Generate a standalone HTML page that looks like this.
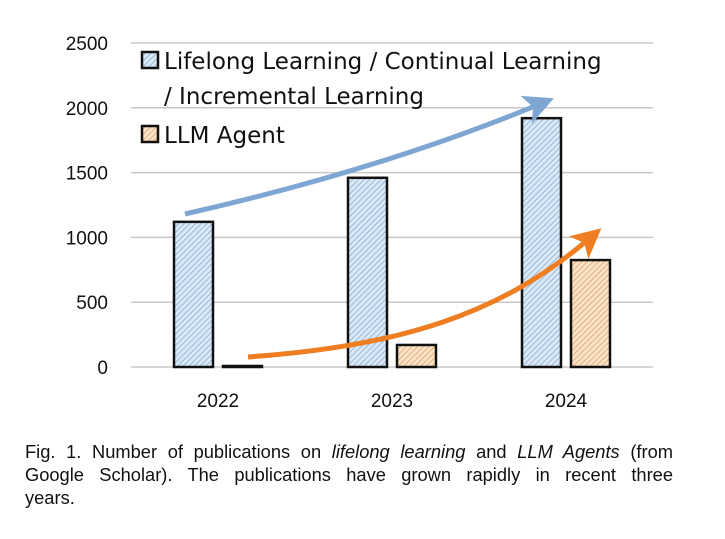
<!DOCTYPE html>
<html><head><meta charset="utf-8"><style>
body{margin:0;background:#fff;width:725px;height:539px;overflow:hidden;font-family:"Liberation Sans",sans-serif}
#cap{position:absolute;left:25px;top:440px;width:648px;font-size:18.3px;line-height:23px;color:#111}
#cap .j{text-align:justify;text-align-last:justify;white-space:nowrap}
</style></head><body>
<svg id="chart" width="725" height="430" style="position:absolute;left:0;top:0">
<defs>
<pattern id="hb" patternUnits="userSpaceOnUse" width="4" height="4" patternTransform="rotate(45)"><rect width="4" height="4" fill="#dbe8f5"/><line x1="0" y1="0" x2="0" y2="4" stroke="#7fa6cf" stroke-width="1.4"/></pattern>
<pattern id="ho" patternUnits="userSpaceOnUse" width="4" height="4" patternTransform="rotate(45)"><rect width="4" height="4" fill="#fbe3c8"/><line x1="0" y1="0" x2="0" y2="4" stroke="#d89a5e" stroke-width="1.4"/></pattern>
<marker id="ab" markerWidth="6" markerHeight="6" refX="3" refY="3" orient="auto" markerUnits="strokeWidth"><path d="M0,0 L6,3 L0,6 L1.5,3z" fill="#7ea6d2"/></marker>
<marker id="ao" markerWidth="6" markerHeight="6" refX="3" refY="3" orient="auto" markerUnits="strokeWidth"><path d="M0,0 L6,3 L0,6 L1.5,3z" fill="#ef7d22"/></marker>
</defs>
<g id="grid"></g><g id="bars"></g><g id="labels"></g>
<path d="M185,214 Q380,170 540,104" stroke="#7ea6d2" stroke-width="5" fill="none" marker-end="url(#ab)"/>
<path d="M248,357 C400,346 500,315 590,238" stroke="#ef7d22" stroke-width="5" fill="none" marker-end="url(#ao)"/>
<g font-family="'DejaVu Sans',sans-serif" font-size="23" fill="#111">
<rect x="142" y="52" width="16" height="16" fill="url(#hb)" stroke="#111" stroke-width="2.5"/>
<text x="164" y="69">Lifelong Learning / Continual Learning</text>
<text x="164" y="104">/ Incremental Learning</text>
<rect x="142" y="126" width="16" height="16" fill="url(#ho)" stroke="#111" stroke-width="2.5"/>
<text x="164" y="143">LLM Agent</text>
</g>
</svg>
<div id="cap"><div class="j">Fig. 1. Number of publications on <i>lifelong learning</i> and <i>LLM Agents</i> (from</div><div class="j">Google Scholar). The publications have grown rapidly in recent three</div><div>years.</div></div>
<script>
const categories=["2022","2023","2024"];
const lifelong=[1120,1460,1920];
const agent=[8,170,825];
const ticks=[0,500,1000,1500,2000,2500];
const NS="http://www.w3.org/2000/svg";
const y0=367,yTop=43,maxV=2500,xL=131,xR=653;
const y=v=>y0-(v/maxV)*(y0-yTop);
const band=(xR-xL)/categories.length;
const xc=i=>xL+band*(i+0.5);
function mk(t,a,p){const e=document.createElementNS(NS,t);for(const k in a)e.setAttribute(k,a[k]);document.getElementById(p).appendChild(e);return e;}
ticks.forEach(t=>{
 const l=mk("line",{x1:xL,x2:xR,y1:y(t),y2:y(t),stroke:"#c8c8c8","stroke-width":1.5},"grid");
 
 
 const tx=mk("text",{x:108,y:y(t)+7,"text-anchor":"end","font-size":19,fill:"#111"},"labels");
 tx.textContent=t;
 
 
});
categories.forEach((c,i)=>{
 const b1=mk("rect",{x:xc(i)-44,y:y(lifelong[i]),width:39,height:y0-y(lifelong[i]),fill:"url(#hb)",stroke:"#111","stroke-width":2.5},"bars");
 
 
 const b2=mk("rect",{x:xc(i)+5,y:y(agent[i]),width:39,height:y0-y(agent[i]),fill:"url(#ho)",stroke:"#111","stroke-width":2.5},"bars");
 
 
 const tx=mk("text",{x:xc(i),y:407,"text-anchor":"middle","font-size":19,fill:"#111"},"labels");
 tx.textContent=c;
 
 
});
</script>
</body></html>
